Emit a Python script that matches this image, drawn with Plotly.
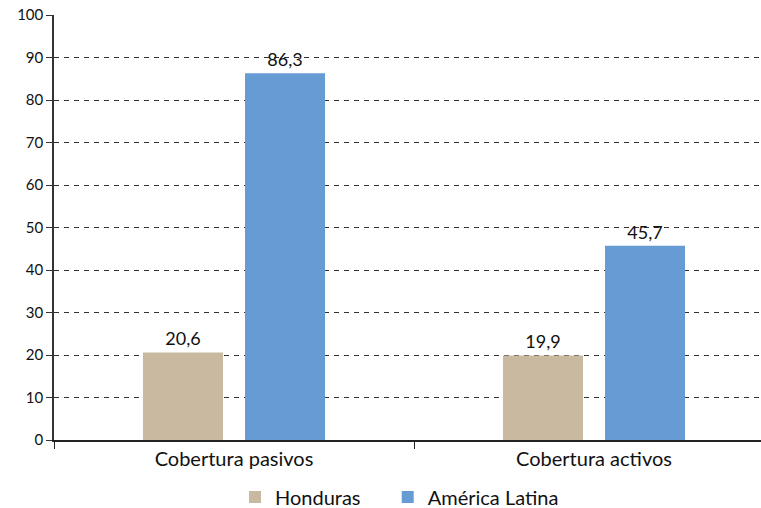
import plotly.graph_objects as go

categories = ["Cobertura pasivos", "Cobertura activos"]
honduras = [20.6, 19.9]
america_latina = [86.3, 45.7]
series_names = ["Honduras", "América Latina"]
y_ticks = [0, 10, 20, 30, 40, 50, 60, 70, 80, 90, 100]

font_family = "Lato, Open Sans, sans-serif"

fig = go.Figure()
fig.add_trace(go.Bar(
    x=categories, y=honduras, name=series_names[0], legend="legend",
    marker=dict(color="#C8B9A0", line=dict(width=0)),
    text=honduras, texttemplate="%{y:.1f}", textposition="outside",
    textfont=dict(size=18, color="#111", family=font_family), cliponaxis=False,
))
fig.add_trace(go.Bar(
    x=categories, y=america_latina, name=series_names[1], legend="legend2",
    marker=dict(color="#669BD4", line=dict(width=0)),
    text=america_latina, texttemplate="%{y:.1f}", textposition="outside",
    textfont=dict(size=18, color="#111", family=font_family), cliponaxis=False,
))

leg_common = dict(orientation="h", y=-0.134, yanchor="middle", xanchor="left",
                  font=dict(size=20, color="#111"), itemwidth=30)

fig.update_layout(
    width=761, height=508,
    margin=dict(l=54, r=0, t=15, b=68, autoexpand=False),
    paper_bgcolor="white", plot_bgcolor="white",
    separators=",.",
    barmode="group", bargap=0.433, bargroupgap=0.216,
    font=dict(family=font_family, size=18, color="#111"),
    showlegend=True,
    legend=dict(x=0.256, **leg_common),
    legend2=dict(x=0.472, **leg_common),
    xaxis=dict(
        type="category", range=[-0.5, 1.4639],
        showline=True, linecolor="#222", linewidth=1.5,
        ticks="outside", tickson="boundaries", ticklen=7, tickcolor="#222",
        showgrid=False, tickfont=dict(size=20, color="#111"),
    ),
    yaxis=dict(
        range=[0, 100], tickvals=y_ticks,
        showline=True, linecolor="#333", linewidth=1.5,
        ticks="outside", ticklen=6, tickcolor="#333",
        showgrid=True, gridcolor="#333", gridwidth=1, griddash="5px,5px",
        zeroline=False, tickfont=dict(size=15, color="#111"),
    ),
)

fig.write_html("out.html")
